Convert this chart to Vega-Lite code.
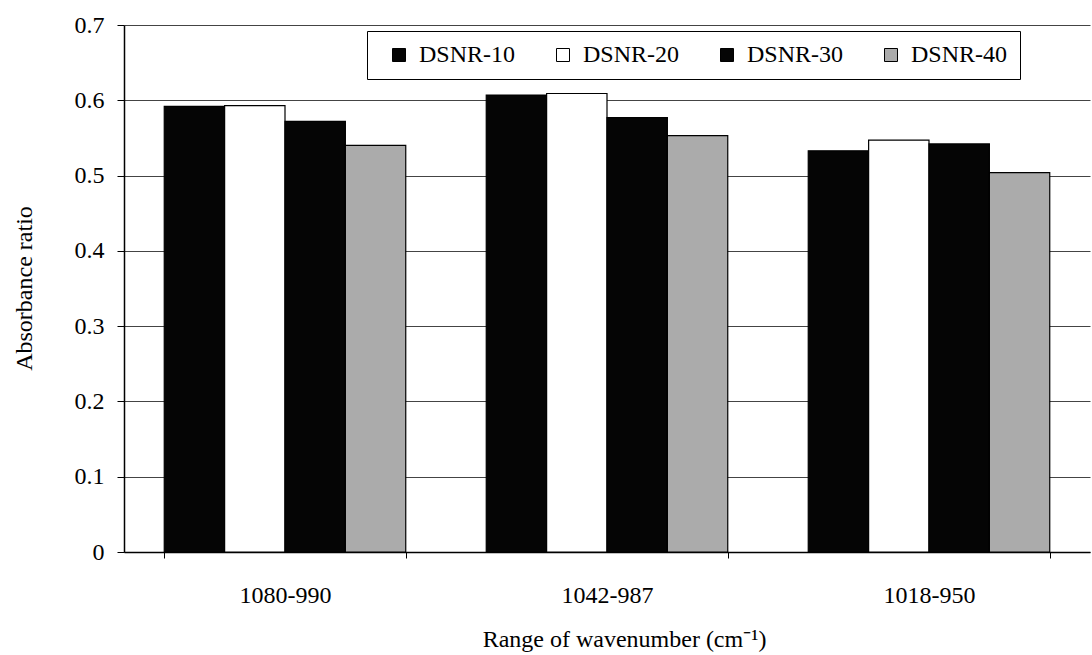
{
  "$schema": "https://vega.github.io/schema/vega-lite/v6.json",
  "autosize": {"type": "none"},
  "padding": {"left": 124, "top": 25, "right": 2, "bottom": 103},
  "width": 966,
  "height": 527,
  "background": "white",
  "config": {
    "font": "Liberation Serif",
    "view": {"stroke": null}
  },
  "data": {
    "values": [
      {"range": "1080-990", "sample": "DSNR-10", "ratio": 0.592},
      {"range": "1080-990", "sample": "DSNR-20", "ratio": 0.593},
      {"range": "1080-990", "sample": "DSNR-30", "ratio": 0.572},
      {"range": "1080-990", "sample": "DSNR-40", "ratio": 0.540},
      {"range": "1042-987", "sample": "DSNR-10", "ratio": 0.607},
      {"range": "1042-987", "sample": "DSNR-20", "ratio": 0.609},
      {"range": "1042-987", "sample": "DSNR-30", "ratio": 0.577},
      {"range": "1042-987", "sample": "DSNR-40", "ratio": 0.553},
      {"range": "1018-950", "sample": "DSNR-10", "ratio": 0.533},
      {"range": "1018-950", "sample": "DSNR-20", "ratio": 0.547},
      {"range": "1018-950", "sample": "DSNR-30", "ratio": 0.542},
      {"range": "1018-950", "sample": "DSNR-40", "ratio": 0.504}
    ]
  },
  "mark": {"type": "bar", "stroke": "black", "strokeWidth": 1.2},
  "encoding": {
    "x": {
      "field": "range",
      "type": "nominal",
      "sort": ["1080-990", "1042-987", "1018-950"],
      "scale": {"paddingInner": 0.25, "paddingOuter": 0.125},
      "axis": {
        "title": "Range of wavenumber (cm⁻¹)",
        "titleFont": "Liberation Serif",
        "titleFontSize": 24,
        "titleFontWeight": "normal",
        "titleColor": "black",
        "titleX": 500,
        "titleY": 94,
        "titleAlign": "center",
        "titleBaseline": "alphabetic",
        "labelAngle": 0,
        "labelFont": "Liberation Serif",
        "labelFontSize": 24,
        "labelColor": "black",
        "labelPadding": 25,
        "tickBand": "extent",
        "tickSize": 6,
        "tickColor": "black",
        "domainColor": "black",
        "domainWidth": 1.5,
        "grid": false
      }
    },
    "xOffset": {
      "field": "sample",
      "type": "nominal",
      "sort": ["DSNR-10", "DSNR-20", "DSNR-30", "DSNR-40"],
      "scale": {"paddingInner": 0, "paddingOuter": 0}
    },
    "y": {
      "field": "ratio",
      "type": "quantitative",
      "scale": {"domain": [0, 0.7], "nice": false},
      "axis": {
        "title": "Absorbance ratio",
        "titleFont": "Liberation Serif",
        "titleFontSize": 24,
        "titleFontWeight": "normal",
        "titleColor": "black",
        "titleX": -100,
        "titleY": 263,
        "titleAngle": -90,
        "titleAlign": "center",
        "titleBaseline": "middle",
        "values": [0, 0.1, 0.2, 0.3, 0.4, 0.5, 0.6, 0.7],
        "format": "~g",
        "labelFont": "Liberation Serif",
        "labelFontSize": 24,
        "labelColor": "black",
        "labelPadding": 13,
        "tickSize": 7,
        "tickColor": "black",
        "domainColor": "black",
        "domainWidth": 1.5,
        "grid": true,
        "gridColor": "#444444",
        "gridWidth": 1
      }
    },
    "fill": {
      "field": "sample",
      "type": "nominal",
      "sort": ["DSNR-10", "DSNR-20", "DSNR-30", "DSNR-40"],
      "scale": {
        "domain": ["DSNR-10", "DSNR-20", "DSNR-30", "DSNR-40"],
        "range": ["#050505", "#ffffff", "#050505", "#ababab"]
      },
      "legend": {
        "title": null,
        "orient": "none",
        "legendX": 243,
        "legendY": 6,
        "direction": "horizontal",
        "columns": 4,
        "columnPadding": 27,
        "padding": 12,
        "strokeColor": "black",
        "fillColor": "white",
        "symbolType": "square",
        "symbolSize": 169,
        "symbolStrokeColor": "black",
        "symbolStrokeWidth": 1,
        "symbolOffset": 8,
        "labelOffset": 8,
        "labelFont": "Liberation Serif",
        "labelFontSize": 24,
        "labelColor": "black",
        "labelLimit": 200
      }
    }
  }
}
